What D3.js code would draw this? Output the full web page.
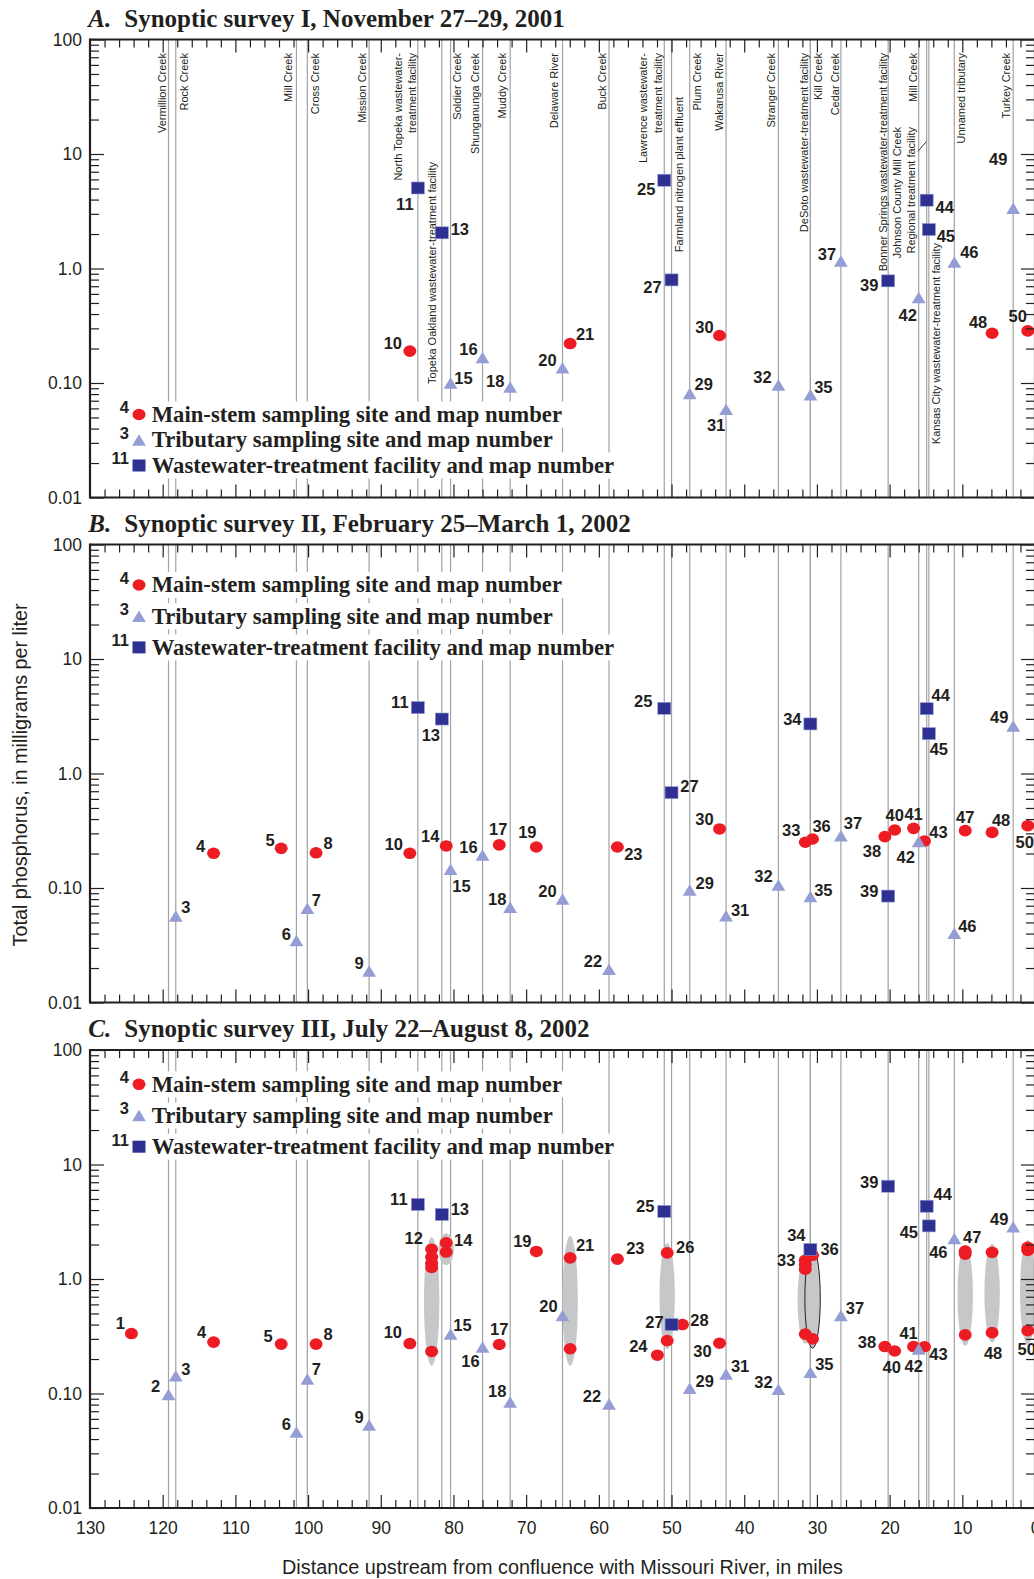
<!DOCTYPE html>
<html><head><meta charset="utf-8">
<script src="https://cdn.jsdelivr.net/npm/d3@7"></script>
<style>body{margin:0;background:#fff}svg{display:block}</style>
</head><body>
<svg id="chart" width="1034" height="1579"></svg>
<script>
// ================= DATA =================
const xTickValues = [130,120,110,100,90,80,70,60,50,40,30,20,10,0];
const yMajorValues = [100,10,1,0.1,0.01];
const yTickLabels = ["100","10","1.0","0.10","0.01"];
const panelTitles = [
  ["A.","Synoptic survey I, November 27–29, 2001"],
  ["B.","Synoptic survey II, February 25–March 1, 2002"],
  ["C.","Synoptic survey III, July 22–August 8, 2002"]
];
const legendLabels = ["Main-stem sampling site and map number","Tributary sampling site and map number","Wastewater-treatment facility and map number"];
const legendNumbers = ["4","3","11"];
const xTitle = "Distance upstream from confluence with Missouri River, in miles";
const yTitle = "Total phosphorus, in milligrams per liter";

// streams / facilities entering the river: [name, river mile, map number]
const streams = [
  ["Vermillion Creek",119.2,2],["Rock Creek",118.2,3],["Mill Creek",101.6,6],["Cross Creek",100.1,7],
  ["Mission Creek",91.6,9],["North Topeka wastewater-\ntreatment facility",84.9,11],
  ["Topeka Oakland wastewater-treatment facility",81.6,13],["Soldier Creek",80.4,15],
  ["Shunganunga Creek",76.0,16],["Muddy Creek",72.2,18],["Delaware River",65.0,20],["Buck Creek",58.6,22],
  ["Lawrence wastewater-\ntreatment facility",51.0,25],["Farmland nitrogen plant effluent",50.0,27],
  ["Plum Creek",47.5,29],["Wakarusa River",42.5,31],["Stranger Creek",35.3,32],
  ["DeSoto wastewater-treatment facility",30.9,34],["Kill Creek",30.9,35],["Cedar Creek",26.7,37],
  ["Bonner Springs wastewater-treatment facility",20.2,39],["Mill Creek",16.0,42],
  ["Johnson County Mill Creek\nRegional treatment facility",14.9,44],
  ["Kansas City wastewater-treatment facility",14.6,45],["Unnamed tributary",11.1,46],["Turkey Creek",3.0,49]
];
const wwtfSites = [11,13,25,27,34,39,44,45];
// main-stem sites: [map number, river mile]
const mainStemSites = [[1,124.3],[4,113.0],[5,103.7],[8,98.9],[10,86.0],[12,83.0],[14,81.0],[17,73.7],
  [19,68.6],[21,63.95],[23,57.45],[24,51.95],[26,50.6],[28,48.5],[30,43.4],[33,31.6],[36,30.6],
  [38,20.65],[40,19.3],[41,16.7],[43,15.2],[47,9.6],[48,5.9],[50,1.0]];

// total phosphorus, mg/L : [map number, value]
const surveyA = [[10,0.19],[11,5.05],[13,2.05],[15,0.10],[16,0.167],[18,0.092],[20,0.136],[21,0.221],
  [25,5.9],[27,0.795],[29,0.081],[30,0.26],[31,0.059],[32,0.096],[35,0.079],[37,1.16],[39,0.78],
  [42,0.557],[44,3.95],[45,2.19],[46,1.14],[48,0.272],[49,3.35],[50,0.285]];
const surveyB = [[3,0.057],[4,0.201],[5,0.222],[6,0.0347],[7,0.0665],[8,0.203],[9,0.0188],[10,0.201],
  [11,3.76],[13,2.99],[14,0.233],[15,0.146],[16,0.194],[17,0.238],[18,0.0678],[19,0.228],[20,0.080],
  [22,0.0195],[23,0.228],[25,3.71],[27,0.68],[29,0.096],[30,0.328],[31,0.0573],[32,0.106],[33,0.251],
  [34,2.71],[35,0.084],[36,0.268],[37,0.286],[38,0.281],[39,0.085],[40,0.321],[41,0.332],[42,0.254],
  [43,0.257],[44,3.68],[45,2.23],[46,0.0402],[47,0.317],[48,0.306],[49,2.60],[50,0.350]];
const surveyC = [[1,0.334],[2,0.098],[3,0.143],[4,0.281],[5,0.27],[6,0.046],[7,0.134],[8,0.27],[9,0.053],
  [10,0.273],[11,4.48],[12,1.82],[12,1.55],[12,1.37],[12,1.26],[12,0.233],[13,3.66],[14,2.07],[14,1.72],
  [15,0.33],[16,0.254],[17,0.268],[18,0.084],[19,1.74],[20,0.48],[21,1.53],[21,0.246],[22,0.081],
  [23,1.49],[24,0.216],[25,3.89],[26,1.69],[26,0.29],[27,0.40],[28,0.40],[29,0.111],[30,0.275],
  [31,0.148],[32,0.109],[33,1.46],[33,1.33],[33,1.22],[33,0.33],[34,1.81],[35,0.153],[36,1.61],[36,0.30],
  [37,0.48],[38,0.257],[39,6.46],[40,0.235],[41,0.257],[42,0.244],[43,0.256],[44,4.32],[45,2.91],
  [46,2.26],[47,1.75],[47,1.65],[47,0.325],[48,0.34],[48,1.71],[49,2.86],[50,0.354],[50,1.89],[50,1.78]];
// range envelopes in survey III: [map number, high, low]
const rangesC = [[12,2.31,0.175],[14,2.50,1.32],[21,2.37,0.175],[26,2.05,0.244],[33,1.59,0.27],
  [36,1.85,0.249],[47,1.98,0.261],[48,2.02,0.279],[50,2.19,0.266]];

// ================= LAYOUT (annotation placement) =================
const labelOffsets = {
 A:{10:[-17,-8],11:[-13,16],13:[18,-4],15:[13,-5],16:[-14,-8],18:[-15,-6],20:[-15,-8],21:[15,-10],25:[-18,9],
    27:[-19,7],29:[14,-9],30:[-15,-8],31:[-10,16],32:[-16,-8],35:[13,-8],37:[-14,-7],39:[-19,4],42:[-11,17],
    44:[18,7],45:[17,7],46:[15,-10],48:[-14,-11],49:[-15,-49],50:[-10,-15]},
 B:{3:[10,-9],4:[-13,-7],5:[-11,-8],6:[-10,-7],7:[9,-8],8:[12,-10],9:[-10,-8],10:[-16,-9],11:[-18,-6],13:[-11,16],
    14:[-16,-10],15:[11,17],16:[-14,-8],17:[-1,-16],18:[-13,-8],19:[-9,-15],20:[-15,-8],22:[-16,-8],23:[16,7],
    25:[-21,-7],27:[18,-7],29:[15,-7],30:[-15,-10],31:[14,-6],32:[-15,-9],33:[-14,-12],34:[-18,-5],35:[13,-7],
    36:[9,-13],37:[12,-13],38:[-13,14],39:[-19,-5],40:[0,-15],41:[0,-14],42:[-13,15],43:[14,-9],44:[14,-14],
    45:[10,15],46:[13,-7],47:[0,-14],48:[9,-12],49:[-14,-9],50:[-3,16]},
 C:{1:[-11,-10],2:[-13,-8],3:[10,-7],4:[-12,-10],5:[-13,-8],6:[-10,-8],7:[9,-10],8:[12,-10],9:[-10,-8],10:[-17,-11],
    11:[-19,-5],12:[-18,-11],13:[18,-5],14:[17,-3],15:[12,-9],16:[-12,14],17:[0,-15],18:[-13,-11],19:[-14,-10],
    20:[-14,-9],21:[15,-13],22:[-17,-8],23:[18,-11],24:[-19,-9],25:[-19,-5],26:[18,-6],27:[-17,-3],28:[17,-5],
    29:[15,-7],30:[-17,8],31:[14,-8],32:[-15,-7],33:[-19,0],34:[-14,-14],35:[14,-8],36:[17,-6],37:[14,-7],
    38:[-18,-5],39:[-19,-4],40:[-3,16],41:[-5,-14],42:[-5,17],43:[14,7],44:[16,-12],45:[-20,6],46:[-16,14],
    47:[7,-14],48:[1,20],49:[-14,-8],50:[-1,18]}
};
// stream label layout: dx per text line, top offset below panel top
const streamLabelLayout = [
 {dx:[-6.5]},{dx:[8.5]},{dx:[-8.5]},{dx:[7.5]},{dx:[-7.5]},{dx:[-19.5,-6]},{dx:[-9.5],top:122.5},{dx:[6.5]},
 {dx:[-7.5]},{dx:[-8.5]},{dx:[-8]},{dx:[-7]},{dx:[-21,-6.6]},{dx:[7.3],top:57.5},{dx:[7.2]},{dx:[-7.4]},
 {dx:[-7.6]},{dx:[-6.2]},{dx:[8.1]},{dx:[-6]},{dx:[-5]},{dx:[-5.6]},{dx:[-29.2,-15.6],top:87.5,leader:true},
 {dx:[7.2],top:203.5},{dx:[7.2]},{dx:[-7.4]}
];
const panels = [
 {key:"A",top:39.5,bottom:497.5,data:surveyA,legend:[414.5,440,465.5],titleY:26.5,streamLabels:true},
 {key:"B",top:544.5,bottom:1002.5,data:surveyB,legend:[585,616.2,647.4],titleY:531.7},
 {key:"C",top:1050,bottom:1508,data:surveyC,legend:[1084.3,1115.5,1146.7],titleY:1036.7,ranges:rangesC}
];

// ================= DRAW =================
function hasFont(f){
  const ctx=document.createElement("canvas").getContext("2d");
  const s="mmmmmmmmmmlli1WQ0123";
  return ["monospace","serif"].some(b=>{ctx.font=`40px ${b}`;const w0=ctx.measureText(s).width;
    ctx.font=`40px "${f}", ${b}`;return Math.abs(ctx.measureText(s).width-w0)>0.5;});
}
const narrow = hasFont("Liberation Sans Narrow");
const COND = narrow ? '"Liberation Sans Narrow", "Liberation Sans", sans-serif' : '"Liberation Sans", Arial, sans-serif';
const tickFs = narrow ? 19.5 : 17.5;
const numFs = narrow ? 18.5 : 16.5;
const SANS = '"Liberation Sans", Arial, sans-serif';
const SERIF = '"Liberation Serif", "Times New Roman", serif';
const INK="#231f20", RED="#ed1c24", TRI="#959ed4", SQ="#2e3192", GRID="#a2a2a4", ELL="#c6c7c9";

const svg=d3.select("#chart");
const x=d3.scaleLinear().domain([130,0]).range([90,1035]);
const siteType=id=>wwtfSites.includes(id)?"wwtf":(mainStemSites.find(s=>s[0]===id)?"main":"trib");
const siteMile=id=>{const m=mainStemSites.find(s=>s[0]===id);if(m)return m[1];return streams.find(s=>s[2]===id)[1];};
const minorX=d3.range(128,0,-2).filter(v=>v%10!==0);
const majorX=d3.range(120,0,-10);
const minorY=[];[0.01,0.1,1,10].forEach(d=>{for(let k=2;k<=9;k++)minorY.push(d*k);});

function trianglePath(cx,cy){return `M${cx},${cy-5.8}L${cx+6.9},${cy+5.7}L${cx-6.9},${cy+5.7}Z`;}

panels.forEach((p,pi)=>{
  const y=d3.scaleLog().domain([0.01,100]).range([p.bottom,p.top]);
  const g=svg.append("g");
  // title
  const t=g.append("text").attr("x",88.3).attr("y",p.titleY).attr("font-family",SERIF)
    .attr("font-weight","bold").attr("font-size",25).attr("fill",INK);
  t.append("tspan").attr("font-style","italic").text(panelTitles[pi][0]);
  t.append("tspan").attr("dx",13).text(panelTitles[pi][1]);

  // vertical stream lines
  g.append("g").selectAll("line").data(streams).join("line")
    .attr("x1",d=>x(d[1])).attr("x2",d=>x(d[1])).attr("y1",p.top).attr("y2",p.bottom)
    .attr("stroke",GRID).attr("stroke-width",1.2);

  // stream labels (panel A)
  if(p.streamLabels){
    const lg=g.append("g").attr("font-family",SANS).attr("font-size",11).attr("fill",INK);
    streams.forEach((s,i)=>{
      const L=streamLabelLayout[i]; const top=p.top+(L.top!==undefined?L.top:13.5);
      s[0].split("\n").forEach((line,j)=>{
        lg.append("text").attr("transform",`translate(${x(s[1])+L.dx[j]},${top}) rotate(-90)`)
          .attr("text-anchor","end").attr("dy","0.36em").text(line);
      });
      if(L.leader){
        lg.append("line").attr("x1",x(s[1])-8.8).attr("y1",top+24.5).attr("x2",x(s[1])-0.3).attr("y2",top+14.5)
          .attr("stroke",INK).attr("stroke-width",0.9);
      }
    });
  }

  // legend
  const leg=g.append("g");
  p.legend.forEach((ly,i)=>{
    const tx=leg.append("text").attr("x",151.7).attr("y",ly+7.3).attr("font-family",SERIF)
      .attr("font-weight","bold").attr("font-size",22.7).attr("fill",INK).text(legendLabels[i]);
    const bb=tx.node().getBBox();
    leg.insert("rect","text").attr("x",bb.x-3).attr("y",ly-13).attr("width",bb.width+6).attr("height",26).attr("fill","#fff");
    if(i===0) leg.append("ellipse").attr("cx",139).attr("cy",ly).attr("rx",6.5).attr("ry",5.8).attr("fill",RED);
    if(i===1) leg.append("path").attr("d",trianglePath(139,ly)).attr("fill",TRI);
    if(i===2) leg.append("rect").attr("x",132.5).attr("y",ly-6).attr("width",13).attr("height",12).attr("fill",SQ);
    leg.append("text").attr("x",129).attr("y",ly-7).attr("dy","0.36em").attr("text-anchor","end")
      .attr("font-family",COND).attr("font-weight","bold").attr("font-size",numFs).attr("fill",INK).text(legendNumbers[i]);
  });

  // range envelopes
  if(p.ranges){
    g.append("g").selectAll("ellipse").data(p.ranges).join("ellipse")
      .attr("cx",d=>x(siteMile(d[0]))).attr("cy",d=>(y(d[1])+y(d[2]))/2)
      .attr("rx",7.7).attr("ry",d=>(y(d[2])-y(d[1]))/2)
      .attr("fill",ELL).attr("stroke",d=>d[0]===36?INK:"none").attr("stroke-width",1);
  }

  // markers
  const pts=p.data.map(d=>({id:d[0],v:d[1],type:siteType(d[0]),mile:siteMile(d[0])}));
  const mg=g.append("g");
  mg.selectAll("ellipse").data(pts.filter(d=>d.type==="main")).join("ellipse")
    .attr("cx",d=>x(d.mile)).attr("cy",d=>y(d.v)).attr("rx",6.5).attr("ry",5.8).attr("fill",RED);
  mg.selectAll("path").data(pts.filter(d=>d.type==="trib")).join("path")
    .attr("d",d=>trianglePath(x(d.mile),y(d.v))).attr("fill",TRI);
  mg.selectAll("rect").data(pts.filter(d=>d.type==="wwtf")).join("rect")
    .attr("x",d=>x(d.mile)-6.5).attr("y",d=>y(d.v)-6).attr("width",13).attr("height",12)
    .attr("fill",SQ).attr("stroke","#8f96cf").attr("stroke-width",0.6);

  // point labels (first occurrence of each site)
  const seen=new Set(); const labs=pts.filter(d=>{if(seen.has(d.id))return false;seen.add(d.id);return true;});
  g.append("g").selectAll("text").data(labs).join("text")
    .attr("x",d=>x(d.mile)+(labelOffsets[p.key][d.id]||[12,-10])[0])
    .attr("y",d=>y(d.v)+(labelOffsets[p.key][d.id]||[12,-10])[1])
    .attr("dy","0.36em").attr("text-anchor","middle").attr("font-family",COND).attr("font-weight","bold")
    .attr("font-size",numFs).attr("fill",INK).text(d=>d.id);

  // axes
  const ax=g.append("g").attr("font-family",COND);
  const styleAx=sel=>{sel.select(".domain").remove();sel.selectAll(".tick line").attr("stroke",INK).attr("stroke-width",1.2);};
  ax.append("g").attr("transform",`translate(0,${p.top})`).call(d3.axisTop(x).tickValues(minorX).tickSize(-8).tickFormat("")).call(styleAx);
  ax.append("g").attr("transform",`translate(0,${p.top})`).call(d3.axisTop(x).tickValues(majorX).tickSize(-13).tickFormat("")).call(styleAx);
  ax.append("g").attr("transform",`translate(0,${p.bottom})`).call(d3.axisBottom(x).tickValues(minorX).tickSize(-8).tickFormat("")).call(styleAx);
  const bot=ax.append("g").attr("transform",`translate(0,${p.bottom})`)
    .call(d3.axisBottom(x).tickValues(pi===2?xTickValues:majorX).tickSize(-13).tickPadding(13.5)
      .tickFormat(pi===2?(d=>String(d)):"")).call(styleAx);
  bot.selectAll(".tick text").attr("font-size",tickFs).attr("fill",INK).attr("font-family",COND);
  bot.selectAll(".tick").filter(d=>d===130||d===0).select("line").remove();
  ax.append("g").attr("transform","translate(90,0)").call(d3.axisLeft(y).tickValues(minorY).tickSize(-9).tickFormat("")).call(styleAx);
  const left=ax.append("g").attr("transform","translate(90,0)")
    .call(d3.axisLeft(y).tickValues(yMajorValues).tickSize(-14).tickPadding(8).tickFormat((d,i)=>yTickLabels[i])).call(styleAx);
  left.selectAll(".tick text").attr("font-size",tickFs).attr("fill",INK).attr("font-family",COND);
  ax.append("g").attr("transform","translate(1035,0)").call(d3.axisRight(y).tickValues(minorY).tickSize(-9).tickFormat("")).call(styleAx);
  ax.append("g").attr("transform","translate(1035,0)").call(d3.axisRight(y).tickValues(yMajorValues).tickSize(-14).tickFormat("")).call(styleAx);
  // frame
  const fr=g.append("g").attr("stroke",INK).attr("stroke-width",2.2).attr("fill","none");
  fr.append("line").attr("x1",x(130)).attr("x2",x(0)).attr("y1",p.top).attr("y2",p.top);
  fr.append("line").attr("x1",x(130)).attr("x2",x(0)).attr("y1",p.bottom).attr("y2",p.bottom);
  fr.append("line").attr("x1",x(130)).attr("x2",x(130)).attr("y1",p.top-1.1).attr("y2",p.bottom+1.1);
  fr.append("line").attr("x1",x(0)).attr("x2",x(0)).attr("y1",p.top-1.1).attr("y2",p.bottom+1.1);
});

// axis titles
svg.append("text").attr("x",562.5).attr("y",1566.5).attr("dy","0.36em").attr("text-anchor","middle")
  .attr("font-family",COND).attr("font-size",20).attr("fill",INK)
  .attr("textLength",561).attr("lengthAdjust","spacingAndGlyphs").text(xTitle);
svg.append("text").attr("transform","translate(20,775) rotate(-90)").attr("dy","0.36em").attr("text-anchor","middle")
  .attr("font-family",COND).attr("font-size",20).attr("fill",INK)
  .attr("textLength",343).attr("lengthAdjust","spacingAndGlyphs").text(yTitle);
</script>
</body></html>
